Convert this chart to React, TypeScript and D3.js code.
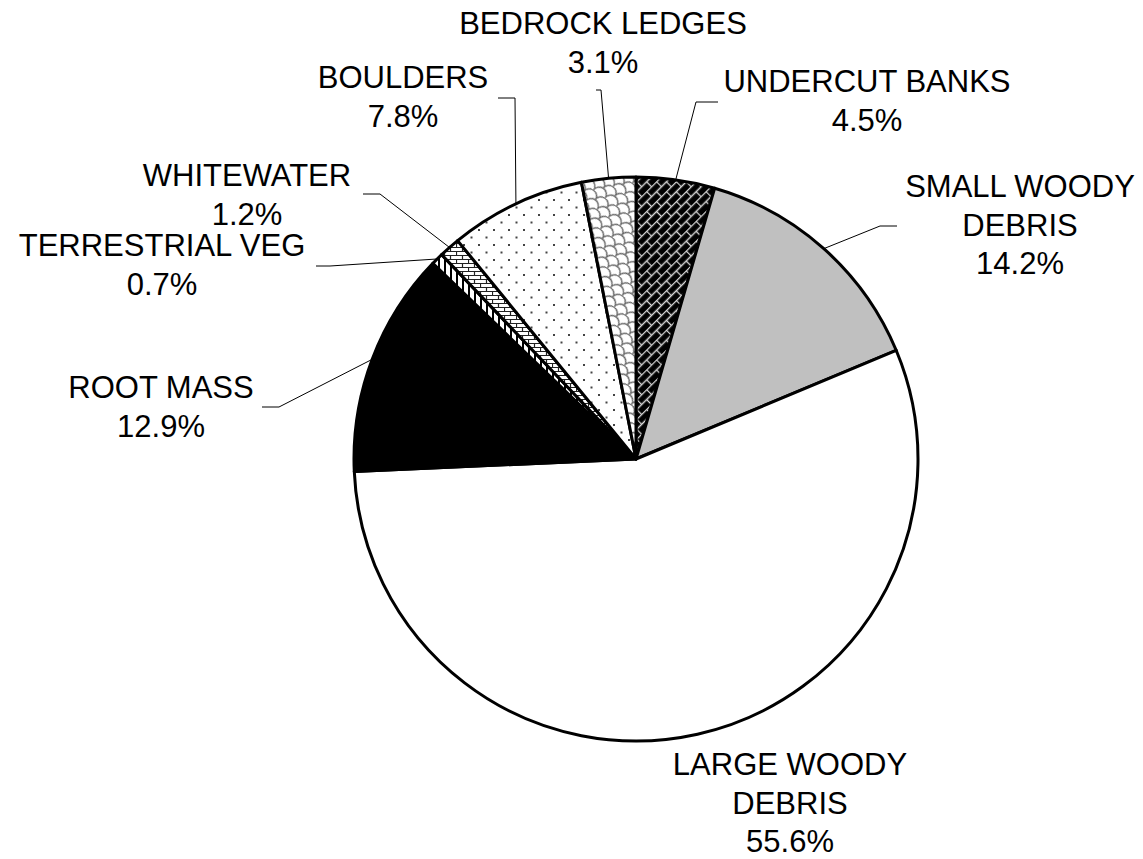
import React from "react";
import * as d3 from "d3";

// slices, clockwise from 12 o'clock
const categories = [
  "UNDERCUT BANKS",
  "SMALL WOODY DEBRIS",
  "LARGE WOODY DEBRIS",
  "ROOT MASS",
  "TERRESTRIAL VEG",
  "WHITEWATER",
  "BOULDERS",
  "BEDROCK LEDGES",
];
const percents = [4.5, 14.2, 55.6, 12.9, 0.7, 1.2, 7.8, 3.1];
const labelLines = [
  ["UNDERCUT BANKS"],
  ["SMALL WOODY", "DEBRIS"],
  ["LARGE WOODY", "DEBRIS"],
  ["ROOT MASS"],
  ["TERRESTRIAL VEG"],
  ["WHITEWATER"],
  ["BOULDERS"],
  ["BEDROCK LEDGES"],
];
const fills = [
  "url(#diagBrick)",
  "#c0c0c0",
  "#ffffff",
  "#000000",
  "url(#vStripe)",
  "url(#hBrick)",
  "url(#dots)",
  "url(#shingle)",
];

// label layout: text centre, first baseline, leader elbow and end (null = no leader)
const labelLayout: { x: number; y: number; elbow: [number, number] | null; end: [number, number] | null }[] = [
  { x: 867, y: 92, elbow: [696, 102], end: [718, 102] },
  { x: 1020, y: 197, elbow: [880, 226], end: [897, 226] },
  { x: 790, y: 775, elbow: null, end: null },
  { x: 161, y: 398, elbow: [279, 407], end: [262, 407] },
  { x: 162, y: 256, elbow: [330, 266], end: [316, 266] },
  { x: 247, y: 186, elbow: [380, 194], end: [363, 194] },
  { x: 403, y: 88, elbow: [515, 98], end: [498, 98] },
  { x: 603, y: 34, elbow: [601, 90], end: [596, 90] },
];

const width = 1143;
const height = 859;
const cx = 636;
const cy = 459;
const radius = 282;
const lineH = 38.5;

export default function App() {
  const pie = d3.pie<number>().sort(null).value((d) => d).startAngle(0).endAngle(2 * Math.PI);
  const arcs = pie(percents);
  const arc = d3.arc<d3.PieArcDatum<number>>().innerRadius(0).outerRadius(radius);
  const rim = d3.arc<d3.PieArcDatum<number>>().innerRadius(radius).outerRadius(radius);

  return (
    <svg
      width={width}
      height={height}
      style={{ position: "absolute", left: 0, top: 0, background: "#fff" }}
      fontFamily="'Liberation Sans', Arial, sans-serif"
    >
      <defs>
        <pattern id="diagBrick" patternUnits="userSpaceOnUse" width={14} height={14} patternTransform="rotate(-45)">
          <rect width={14} height={14} fill="#000" />
          <path d="M0 0.5 H14 M0 7.5 H14 M0.5 0 V7 M7.5 7 V14" stroke="#d8d8d8" strokeWidth={1.3} fill="none" />
        </pattern>
        <pattern id="shingle" patternUnits="userSpaceOnUse" width={14} height={14} patternTransform="rotate(35)">
          <rect width={14} height={14} fill="#fff" />
          <path d="M0 7 A7 7 0 0 1 14 7 M-7 14 A7 7 0 0 1 7 14 M7 14 A7 7 0 0 1 21 14 M-7 0 A7 7 0 0 1 7 0 M7 0 A7 7 0 0 1 21 0" stroke="#666" strokeWidth={1.3} fill="none" />
        </pattern>
        <pattern id="dots" patternUnits="userSpaceOnUse" width={15} height={15} x={cx} y={cy}>
          <rect width={15} height={15} fill="#fff" />
          <rect x={1} y={1} width={2} height={2} fill="#444" />
          <rect x={8.5} y={8.5} width={2} height={2} fill="#444" />
        </pattern>
        <pattern id="hBrick" patternUnits="userSpaceOnUse" width={12} height={8}>
          <rect width={12} height={8} fill="#fff" />
          <path d="M0 0.5 H12 M0 4.5 H12 M0.5 0.5 V4.5 M6.5 4.5 V8" stroke="#222" strokeWidth={1.2} fill="none" />
        </pattern>
        <pattern id="vStripe" patternUnits="userSpaceOnUse" width={6} height={6}>
          <rect width={6} height={6} fill="#fff" />
          <rect x={0} y={0} width={2} height={6} fill="#000" />
        </pattern>
      </defs>

      <g transform={`translate(${cx},${cy})`}>
        {arcs.map((a, i) => (
          <path key={categories[i]} d={arc(a) || ""} fill={fills[i]} stroke="#000" strokeWidth={3} strokeLinejoin="round" />
        ))}
      </g>

      {/* leader lines */}
      {arcs.map((a, i) => {
        const lay = labelLayout[i];
        if (!lay.elbow || !lay.end) return null;
        const [sx, sy] = rim.centroid(a);
        const pts = [[cx + sx, cy + sy], lay.elbow, lay.end];
        return (
          <polyline
            key={"ld" + i}
            points={pts.map((p) => p.join(",")).join(" ")}
            fill="none"
            stroke="#000"
            strokeWidth={1}
          />
        );
      })}

      {/* labels */}
      {categories.map((c, i) => {
        const lay = labelLayout[i];
        const lines = [...labelLines[i], `${percents[i].toFixed(1)}%`];
        return (
          <text key={"lb" + c} textAnchor="middle" fontSize={31} fill="#000">
            {lines.map((t, j) => (
              <tspan key={j} x={lay.x} y={lay.y + j * lineH}>
                {t}
              </tspan>
            ))}
          </text>
        );
      })}
    </svg>
  );
}
